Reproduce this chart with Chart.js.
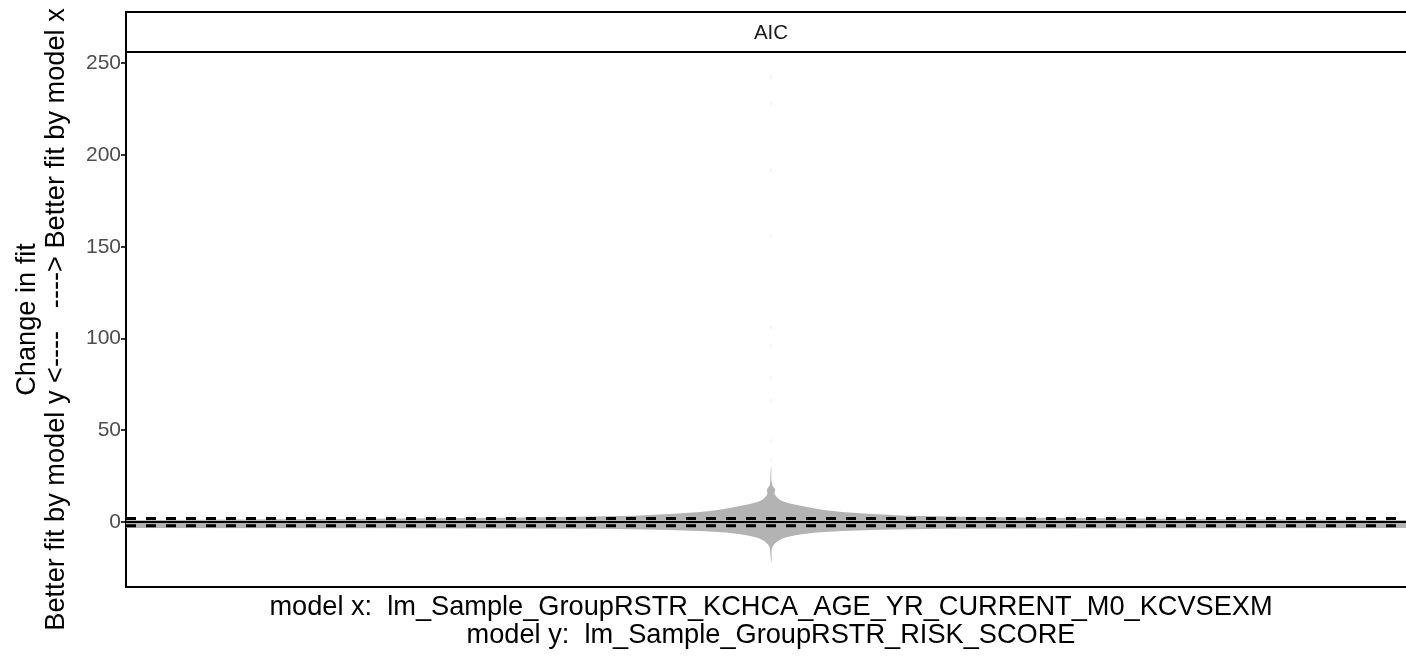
<!DOCTYPE html>
<html>
<head>
<meta charset="utf-8">
<script src="https://cdn.jsdelivr.net/npm/chart.js@4.4.1/dist/chart.umd.min.js"></script>
<style>
  html, body { margin: 0; padding: 0; background: #ffffff; overflow: hidden; }
  #wrap { width: 1418px; height: 657px; }
</style>
</head>
<body>
<div id="wrap"><canvas id="c" width="1418" height="657"></canvas></div>
<script>
// Facet label and axis text
const stripLabel = 'AIC';
const xTitleLines = [
  'model x:  lm_Sample_GroupRSTR_KCHCA_AGE_YR_CURRENT_M0_KCVSEXM',
  'model y:  lm_Sample_GroupRSTR_RISK_SCORE'
];
const yTitleLines = [
  'Change in fit',
  'Better fit by model y <----   ----> Better fit by model x'
];
const yTickValues = [0, 50, 100, 150, 200, 250];

// Violin body: change-in-fit values and the density half-width at each value
const violinY = [
  -21.5, -19, -17, -15, -13.5, -12.5, -11.5, -10.5, -9.5, -8.7,
  -8, -7.3, -6.6, -5.7, -4.9, -4.2, -3.7, -3.4, -3.2, -2.5,
  -1.5, -0.5, 0.5, 1.0, 1.5, 1.9, 2.4, 2.9, 3.5, 4.5,
  5.5, 6.5, 7.5, 8.7, 10, 11, 12, 13.5, 15, 16,
  17, 18, 19, 20, 22, 25, 27, 29, 31
];
const violinHalfWidth = [
  0, 0.0004, 0.0008, 0.0015, 0.0025, 0.004, 0.0065, 0.01, 0.015, 0.02,
  0.027, 0.036, 0.048, 0.07, 0.11, 0.17, 0.265, 0.575, 1.0, 1.4,
  1.5, 1.5, 1.3, 1.0, 0.75, 0.575, 0.42, 0.3, 0.21, 0.15,
  0.11, 0.085, 0.066, 0.048, 0.031, 0.02, 0.014, 0.009, 0.006, 0.0055,
  0.0065, 0.006, 0.004, 0.002, 0.0014, 0.0012, 0.001, 0.0003, 0
];

// Isolated high values in the upper tail, each a tiny density bump
const tailSpecks = [33.8, 44.3, 66.3, 78.9, 96.3, 106.2, 156.2, 191.7, 228.1, 242.6];
const tailSpeckHalfWidth = [0.0003, 0.0003, 0.0003, 0.0003, 0.0003, 0.0003, 0.0003, 0.0003, 0.0003, 0.0003];
const tailSpeckSpread = 1.5;

// Reference lines: no change, and the +/-2 AIC thresholds
const zeroLine = 0;
const thresholdLines = [2, -2];

// Closed outline: right side going up, left side coming back down
const violinOutline = [];
for (let i = 0; i < violinY.length; i++) violinOutline.push({ x: violinHalfWidth[i], y: violinY[i] });
for (let i = violinY.length - 1; i >= 0; i--) violinOutline.push({ x: -violinHalfWidth[i], y: violinY[i] });

const FONT = '"Liberation Sans", Arial, Helvetica, sans-serif';
const VIOLIN_FILL = '#B3B3B3';

const hline = (v, dashed) => ({
  type: 'line',
  data: [{ x: -1, y: v }, { x: 1, y: v }],
  borderColor: '#000000',
  borderWidth: dashed ? 3 : 2,
  borderDash: dashed ? [10, 10] : [],
  borderCapStyle: 'butt',
  pointRadius: 0,
  fill: false,
  tension: 0
});

const shape = (points) => ({
  type: 'line',
  data: points,
  backgroundColor: VIOLIN_FILL,
  borderWidth: 0,
  borderColor: 'rgba(0,0,0,0)',
  pointRadius: 0,
  fill: 'shape',
  tension: 0
});

const speckShapes = tailSpecks.map((s, i) => shape([
  { x: 0, y: s - tailSpeckSpread },
  { x: tailSpeckHalfWidth[i], y: s },
  { x: 0, y: s + tailSpeckSpread },
  { x: -tailSpeckHalfWidth[i], y: s }
]));

const stripPlugin = {
  id: 'facetStrip',
  afterDraw(chart) {
    const { ctx, chartArea } = chart;
    const top = 12;
    const bottom = chartArea.top;
    ctx.save();
    ctx.lineWidth = 2;
    ctx.strokeStyle = '#000000';
    ctx.strokeRect(chartArea.left, top, chart.width, bottom - top);
    ctx.fillStyle = '#1A1A1A';
    ctx.font = '20.5px ' + FONT;
    ctx.textAlign = 'center';
    ctx.textBaseline = 'middle';
    ctx.fillText(stripLabel, (chartArea.left + chartArea.right) / 2, (top + bottom) / 2 + 1);
    ctx.restore();
  }
};

new Chart(document.getElementById('c'), {
  type: 'line',
  data: {
    datasets: [
      ...thresholdLines.map(v => hline(v, true)),
      hline(zeroLine, false),
      shape(violinOutline),
      ...speckShapes
    ]
  },
  options: {
    responsive: false,
    animation: false,
    devicePixelRatio: 1,
    layout: { padding: { left: 0, right: 2, top: 52, bottom: 0 } },
    plugins: { legend: { display: false }, tooltip: { enabled: false } },
    scales: {
      x: {
        type: 'linear',
        min: -1,
        max: 1,
        grid: { display: false },
        ticks: { display: false },
        border: { display: true, color: '#000000', width: 2 },
        title: {
          display: true,
          text: xTitleLines,
          color: '#000000',
          font: { family: FONT, size: 27.2, lineHeight: 1.04 },
          padding: { top: 0, bottom: 7 }
        },
        afterFit: (scale) => { scale.height = 70; }
      },
      y: {
        type: 'linear',
        min: -35.4,
        max: 256.2,
        afterBuildTicks: (scale) => { scale.ticks = yTickValues.map(v => ({ value: v })); },
        afterFit: (scale) => { scale.width = 126; },
        grid: { display: true, drawOnChartArea: false, drawTicks: true, tickLength: 5, color: '#333333', lineWidth: 2 },
        border: { display: true, color: '#000000', width: 2 },
        ticks: { color: '#4D4D4D', font: { family: FONT, size: 21 }, padding: 0 },
        title: {
          display: true,
          text: yTitleLines,
          color: '#000000',
          font: { family: FONT, size: 27.2, lineHeight: 1.08 },
          padding: { top: 12.5, bottom: 0 }
        }
      }
    }
  },
  plugins: [stripPlugin]
});
</script>
</body>
</html>
